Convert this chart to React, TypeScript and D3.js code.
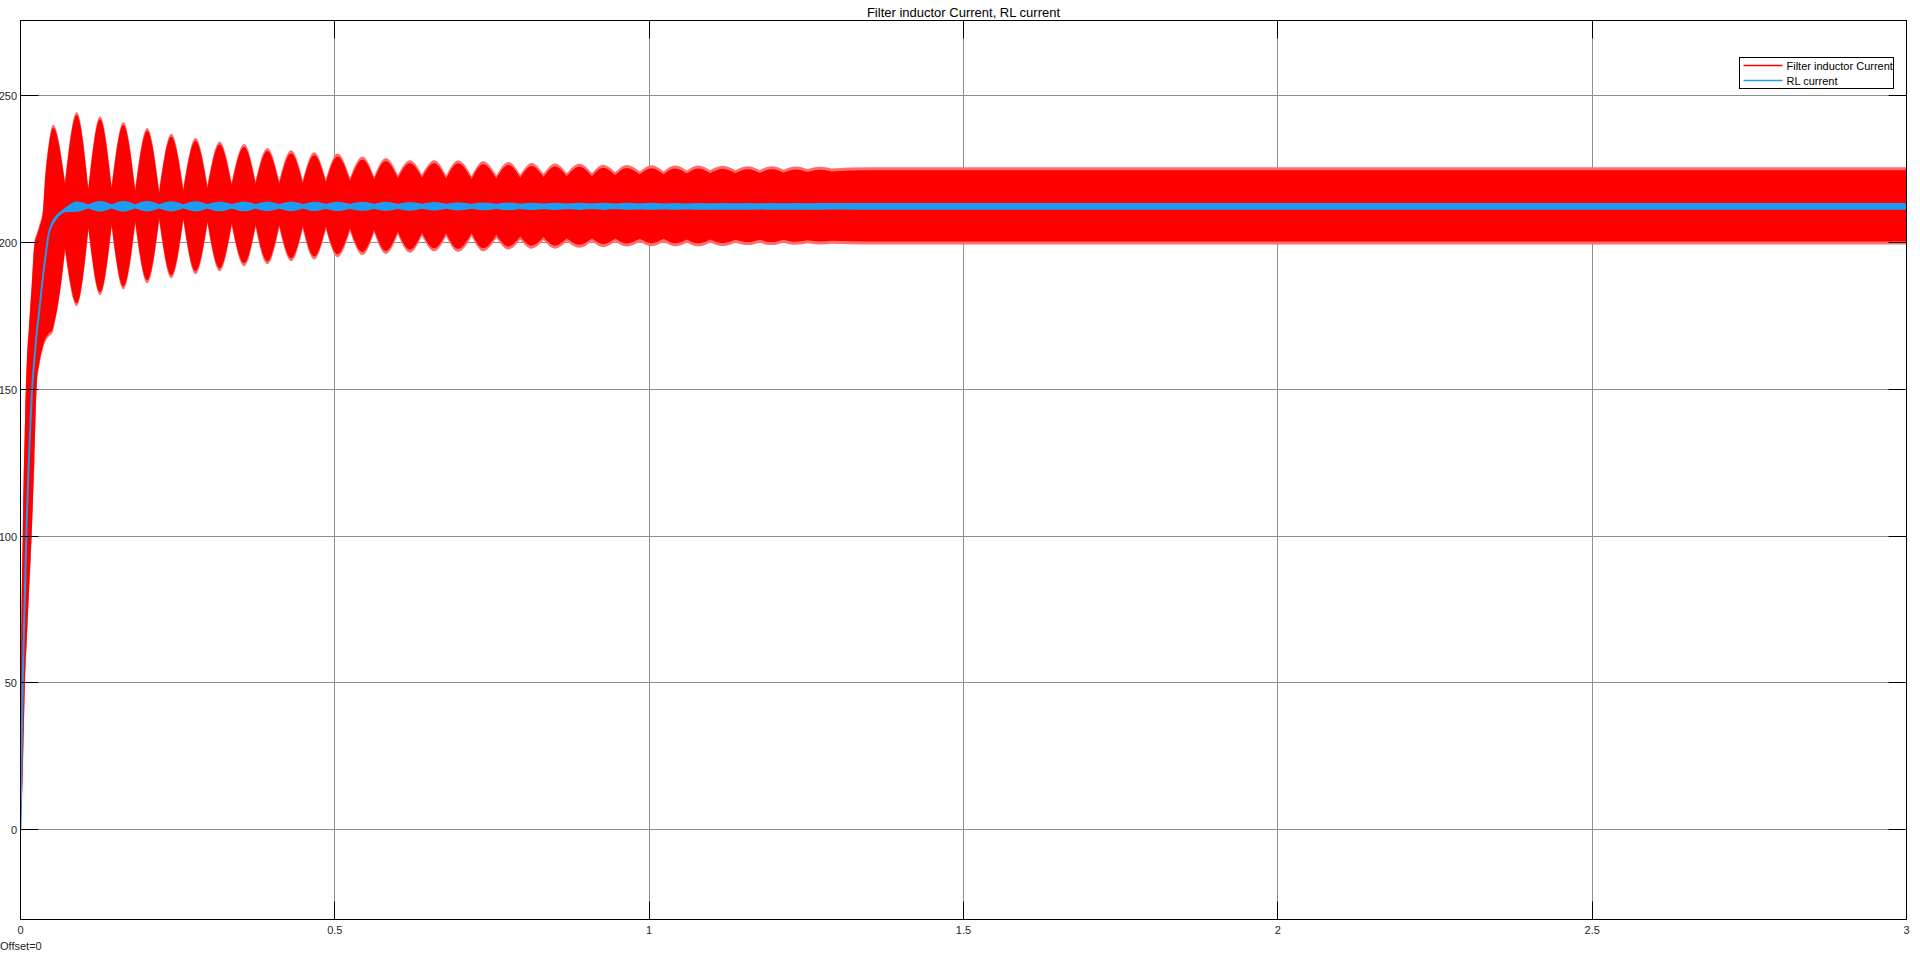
import React from 'react';
import * as d3 from 'd3';

// ---- data ----
const xTicks = [0, 0.5, 1, 1.5, 2, 2.5, 3];
const xTickLabels = ['0', '0.5', '1', '1.5', '2', '2.5', '3'];
const yTicks = [0, 50, 100, 150, 200, 250];
const yTickLabels = ['0', '50', '100', '150', '200', '250'];

// start-up (rise) part
const riseTime = [0, 0.001, 0.0035, 0.0072, 0.010, 0.0135, 0.0178, 0.022, 0.0257, 0.030, 0.036, 0.039, 0.045];
const riseRedUpper = [0, 50, 100, 140, 160, 172, 186, 200, 203, 206, 212, 222, 234];
const riseRedLower = [0, 3, 18, 50, 64, 80, 100, 125, 150, 158, 164, 166, 168];
const riseBlueMid = [0, 15, 50, 82, 106, 127, 148, 160, 169, 177, 189, 194, 203];
const riseBlueHalf = [0, 0, 0, 0, 0, 0, 0, 0, 0, 0, 0, 0, 0];

// beat envelope: alternating beat peaks and nodes
const beatTime = [0.052, 0.0708, 0.0894, 0.108, 0.1265, 0.145, 0.1636, 0.1825, 0.2015, 0.2206, 0.2398, 0.259,
  0.2783, 0.2975, 0.3167, 0.336, 0.3556, 0.374, 0.3927, 0.4116, 0.4305, 0.449, 0.4672, 0.4858, 0.5043, 0.524,
  0.544, 0.5625, 0.5811, 0.6002, 0.6193, 0.6386, 0.658, 0.677, 0.696, 0.7175, 0.736, 0.757, 0.776, 0.795, 0.813,
  0.832, 0.85, 0.869, 0.889, 0.909, 0.927, 0.946, 0.964, 0.985, 1.004, 1.023, 1.041, 1.06, 1.078, 1.097, 1.117,
  1.137, 1.157, 1.176, 1.195];
const beatRedUpper = [240.1, 221.0, 244.4, 219.0, 243.0, 219.5, 241.0, 218.6, 239.0, 217.8, 237.0, 218.6, 235.6,
  219.5, 234.4, 220.5, 233.5, 220.9, 232.2, 221.0, 231.4, 221.3, 230.7, 221.6, 230.3, 222.0, 229.3, 222.5, 228.8,
  222.9, 228.0, 223.1, 228.0, 222.8, 227.9, 222.6, 227.7, 222.8, 227.4, 223.1, 227.1, 223.3, 226.9, 223.6, 226.8,
  223.6, 226.5, 223.9, 226.4, 224.2, 226.3, 224.2, 226.2, 224.5, 226.2, 224.6, 226.1, 224.6, 226.0, 224.7, 226.0];
const beatRedLower = [170, 197, 178.3, 204, 182.0, 205, 184.0, 206.1, 186.1, 207.2, 187.8, 207.2, 189.2, 206.1,
  190.2, 205.5, 191.9, 205.0, 192.6, 205.0, 193.6, 204.6, 194.2, 204.4, 195.0, 203.8, 195.7, 203.3, 196.1, 202.7,
  196.5, 202.3, 197.0, 202.1, 196.8, 202.1, 197.0, 201.6, 197.6, 201.0, 197.9, 200.8, 197.9, 200.4, 198.2, 200.4,
  198.4, 200.3, 198.6, 200.2, 198.7, 200.2, 198.7, 200.0, 198.7, 200.0, 198.8, 199.9, 199.1, 199.9, 199.1];
const beatBlueMid = [207, 211, 212.2, 212.3, 212.3, 212.3, 212.3, 212.3, 212.3, 212.3, 212.3, 212.3, 212.3,
  212.3, 212.3, 212.3, 212.3, 212.3, 212.3, 212.3, 212.3, 212.3, 212.3, 212.3, 212.3, 212.3, 212.3, 212.3, 212.3,
  212.3, 212.3, 212.3, 212.3, 212.3, 212.3, 212.3, 212.3, 212.3, 212.3, 212.3, 212.3, 212.3, 212.3, 212.3, 212.3,
  212.3, 212.3, 212.3, 212.3, 212.3, 212.3, 212.3, 212.3, 212.3, 212.3, 212.3, 212.3, 212.3, 212.3, 212.3, 212.3];
const beatBlueHalf = [0.3, 0.35, 1.4, 0.35, 1.5, 0.35, 1.5, 0.35, 1.45, 0.35, 1.4, 0.35, 1.4, 0.4, 1.35, 0.4,
  1.35, 0.4, 1.3, 0.4, 1.3, 0.4, 1.25, 0.45, 1.25, 0.45, 1.2, 0.45, 1.2, 0.45, 1.15, 0.5, 1.1, 0.5, 1.05, 0.5,
  1.0, 0.55, 0.95, 0.55, 0.92, 0.55, 0.9, 0.6, 0.88, 0.6, 0.87, 0.6, 0.86, 0.65, 0.85, 0.65, 0.84, 0.65, 0.83,
  0.7, 0.82, 0.7, 0.81, 0.7, 0.8];

// fading beats and steady state
const tailTime = [1.214, 1.233, 1.252, 1.271, 1.29, 1.35, 1.5, 2.0, 2.5, 3.0];
const tailRedUpper = [224.8, 225.9, 225.0, 225.8, 225.2, 225.6, 225.6, 225.6, 225.6, 225.6];
const tailRedLower = [199.9, 199.2, 199.7, 199.3, 199.6, 199.3, 199.3, 199.3, 199.3, 199.3];
const tailBlueMid = [212.3, 212.3, 212.3, 212.3, 212.3, 212.3, 212.3, 212.3, 212.3, 212.3];
const tailBlueHalf = [0.72, 0.8, 0.74, 0.79, 0.76, 0.78, 0.78, 0.78, 0.78, 0.78];

const seriesNames = ['Filter inductor Current', 'RL current'];
const seriesColors = ['#ff0000', '#1e9cf0'];

// ---- layout ----
const W = 1920, H = 955;
const PL = 20.5, PR = 1906.5, PT = 20.5, PB = 919.5;
const FONT = '"Liberation Sans", Arial, Helvetica, sans-serif';

// Hermite slopes: envelope extremes pointing away from the band are rounded,
// extremes pointing into the band (beat nodes) are cusps.
function slopes(px: number[], py: number[], roundAtPixelMin: boolean) {
  const n = px.length;
  const L: number[] = new Array(n).fill(0);
  const R: number[] = new Array(n).fill(0);
  for (let i = 0; i < n; i++) {
    const sl = i > 0 ? (py[i] - py[i - 1]) / (px[i] - px[i - 1]) : null;
    const sr = i < n - 1 ? (py[i + 1] - py[i]) / (px[i + 1] - px[i]) : null;
    if (sl === null && sr !== null) { L[i] = R[i] = sr; continue; }
    if (sr === null && sl !== null) { L[i] = R[i] = sl; continue; }
    const a = sl as number, b = sr as number;
    const isMin = a < 0 && b > 0;
    const isMax = a > 0 && b < 0;
    if (isMin || isMax) {
      const rounded = (isMin && roundAtPixelMin) || (isMax && !roundAtPixelMin);
      if (rounded) { L[i] = 0; R[i] = 0; }
      else { L[i] = 1.5 * a; R[i] = 1.5 * b; }
    } else {
      let m = (a + b) / 2;
      const lim = 3 * Math.min(Math.abs(a), Math.abs(b));
      if (Math.abs(m) > lim) m = Math.sign(m) * lim;
      L[i] = m; R[i] = m;
    }
  }
  return { L, R };
}

function bandPath(px: number[], upY: number[], loY: number[]) {
  const p = d3.path();
  const n = px.length;
  const su = slopes(px, upY, true);
  const sl = slopes(px, loY, false);
  p.moveTo(px[0], upY[0]);
  for (let i = 0; i < n - 1; i++) {
    const dx = px[i + 1] - px[i];
    p.bezierCurveTo(px[i] + dx / 3, upY[i] + su.R[i] * dx / 3,
      px[i + 1] - dx / 3, upY[i + 1] - su.L[i + 1] * dx / 3, px[i + 1], upY[i + 1]);
  }
  p.lineTo(px[n - 1], loY[n - 1]);
  for (let i = n - 2; i >= 0; i--) {
    const dx = px[i + 1] - px[i];
    p.bezierCurveTo(px[i + 1] - dx / 3, loY[i + 1] - sl.L[i + 1] * dx / 3,
      px[i] + dx / 3, loY[i] + sl.R[i] * dx / 3, px[i], loY[i]);
  }
  p.closePath();
  return p.toString();
}

export default function App() {
  const x = d3.scaleLinear().domain([0, 3]).range([PL, PR]);
  const y = d3.scaleLinear().domain([-30.6, 275.6]).range([PB, PT]);

  const time = [...riseTime, ...beatTime, ...tailTime];
  const redUp = [...riseRedUpper, ...beatRedUpper, ...tailRedUpper];
  const redLo = [...riseRedLower, ...beatRedLower, ...tailRedLower];
  const blueMid = [...riseBlueMid, ...beatBlueMid, ...tailBlueMid];
  const blueHalf = [...riseBlueHalf, ...beatBlueHalf, ...tailBlueHalf];

  const px = time.map(t => x(t));
  const redUpY = redUp.map(v => y(v));
  const redLoY = redLo.map(v => y(v));

  const fringe = 3;
  const innerUpY = redUpY.map((u, i) => Math.min(u + fringe, (u + redLoY[i]) / 2));
  const innerLoY = redLoY.map((l, i) => Math.max(l - fringe, (l + redUpY[i]) / 2));

  const blueUpY = blueMid.map((m, i) => y(m + blueHalf[i]));
  const blueLoY = blueMid.map((m, i) => y(m - blueHalf[i]));

  const redOuter = bandPath(px, redUpY, redLoY);
  const redInner = bandPath(px, innerUpY, innerLoY);
  const blueBand = bandPath(px, blueUpY, blueLoY);

  const crisp = (v: number) => Math.round(v - 0.5) + 0.5;
  const tickLen = 18;
  const gridColor = '#8e8e8e';
  const labelColor = '#262626';

  const legX = 1739.5, legY = 57.5, legW = 154, legH = 31;

  return (
    <svg width={W} height={H} style={{ position: 'absolute', left: 0, top: 0, display: 'block', background: '#fff' }}
      fontFamily={FONT}>
      <defs>
        <clipPath id="plotClip">
          <rect x={PL} y={PT} width={PR - PL} height={PB - PT} />
        </clipPath>
      </defs>
      <rect x={0} y={0} width={W} height={H} fill="#fff" />

      {/* grid */}
      {xTicks.slice(1, -1).map(t => (
        <line key={'gx' + t} x1={crisp(x(t))} x2={crisp(x(t))} y1={PT} y2={PB} stroke={gridColor} strokeWidth={1} />
      ))}
      {yTicks.map(t => (
        <line key={'gy' + t} x1={PL} x2={PR} y1={crisp(y(t))} y2={crisp(y(t))} stroke={gridColor} strokeWidth={1} />
      ))}

      {/* data */}
      <g clipPath="url(#plotClip)">
        <path d={redOuter} fill="#ff6e6e" />
        <path d={redInner} fill={seriesColors[0]} />
        <path d={blueBand} fill={seriesColors[1]} stroke={seriesColors[1]} strokeWidth={2} strokeLinejoin="round" />
      </g>

      {/* ticks */}
      {xTicks.map(t => (
        <g key={'tx' + t}>
          <line x1={crisp(x(t))} x2={crisp(x(t))} y1={PB} y2={PB - tickLen} stroke="#000" />
          <line x1={crisp(x(t))} x2={crisp(x(t))} y1={PT} y2={PT + tickLen} stroke="#000" />
        </g>
      ))}
      {yTicks.map(t => (
        <g key={'ty' + t}>
          <line x1={PL} x2={PL + tickLen} y1={crisp(y(t))} y2={crisp(y(t))} stroke="#000" />
          <line x1={PR} x2={PR - tickLen} y1={crisp(y(t))} y2={crisp(y(t))} stroke="#000" />
        </g>
      ))}

      {/* border */}
      <rect x={PL} y={PT} width={PR - PL} height={PB - PT} fill="none" stroke="#000" strokeWidth={1} />

      {/* tick labels */}
      {xTicks.map((t, i) => (
        <text key={'lx' + t} x={x(t)} y={933.5} fontSize={11} textAnchor="middle" fill={labelColor}>{xTickLabels[i]}</text>
      ))}
      {yTicks.map((t, i) => (
        <text key={'ly' + t} x={17} y={y(t) + 4.5} fontSize={11} textAnchor="end" fill={labelColor}>{yTickLabels[i]}</text>
      ))}
      <text x={0} y={949.5} fontSize={11} fill={labelColor}>Offset=0</text>

      {/* title */}
      <text x={(PL + PR) / 2} y={17} fontSize={13} textAnchor="middle" fill="#000">Filter inductor Current, RL current</text>

      {/* legend */}
      <rect x={legX} y={legY} width={legW} height={legH} fill="#fff" stroke="#000" strokeWidth={1} />
      {seriesNames.map((name, i) => (
        <g key={name}>
          <line x1={legX + 4} x2={legX + 43} y1={legY + 8 + i * 15} y2={legY + 8 + i * 15} stroke={seriesColors[i]} strokeWidth={1.5} />
          <text x={legX + 47} y={legY + 12 + i * 15} fontSize={11} fill="#000">{name}</text>
        </g>
      ))}
    </svg>
  );
}
